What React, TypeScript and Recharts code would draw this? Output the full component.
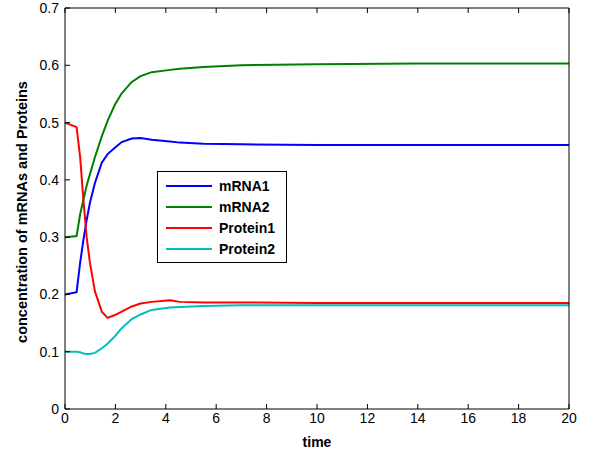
import { LineChart, Line, XAxis, YAxis } from "recharts";

const time = [0, 0.46, 0.6, 0.73, 0.86, 0.99, 1.19, 1.46, 1.69, 1.98, 2.25, 2.65, 3.0, 3.44, 4.17, 4.56, 5.5, 7, 10, 14, 20];
const mrna1 = [0.2, 0.204, 0.255, 0.295, 0.33, 0.36, 0.395, 0.43, 0.445, 0.456, 0.466, 0.472, 0.473, 0.47, 0.467, 0.465, 0.463, 0.462, 0.461, 0.461, 0.461];
const mrna2 = [0.3, 0.302, 0.34, 0.365, 0.39, 0.41, 0.44, 0.476, 0.503, 0.531, 0.551, 0.571, 0.581, 0.588, 0.592, 0.594, 0.597, 0.6, 0.602, 0.603, 0.603];
const protein1 = [0.5, 0.492, 0.44, 0.365, 0.3, 0.255, 0.205, 0.17, 0.159, 0.164, 0.17, 0.179, 0.184, 0.187, 0.19, 0.187, 0.186, 0.186, 0.185, 0.185, 0.185];
const protein2 = [0.1, 0.1, 0.099, 0.097, 0.096, 0.096, 0.098, 0.106, 0.114, 0.127, 0.141, 0.157, 0.165, 0.173, 0.177, 0.178, 0.18, 0.181, 0.181, 0.181, 0.181];

const xTicks = [0, 2, 4, 6, 8, 10, 12, 14, 16, 18, 20];
const yTicks = [0, 0.1, 0.2, 0.3, 0.4, 0.5, 0.6, 0.7];

const series = [
  { key: "mRNA1", color: "#0000ff" },
  { key: "mRNA2", color: "#008000" },
  { key: "Protein1", color: "#ff0000" },
  { key: "Protein2", color: "#00bfbf" },
];

const data = time.map((t, i) => ({
  t,
  mRNA1: mrna1[i],
  mRNA2: mrna2[i],
  Protein1: protein1[i],
  Protein2: protein2[i],
}));

const font = "'Liberation Sans', Arial, sans-serif";

function LegendBox() {
  return (
    <div style={{ position: "absolute", left: 157, top: 171, border: "1px solid #000", background: "#fff", width: 130, height: 92, boxSizing: "border-box", padding: "3px 0 0 8px", fontFamily: font }}>
      {series.map(s => (
        <div key={s.key} style={{ display: "flex", alignItems: "center", height: 21 }}>
          <div style={{ width: 46, height: 2, background: s.color, marginRight: 7 }} />
          <span style={{ fontWeight: "bold", fontSize: 14, color: "#000" }}>{s.key}</span>
        </div>
      ))}
    </div>
  );
}

// y axis title, placed like the original figure
const YTitle = () => (
  <text x={22} y={212} transform="rotate(-90 22 212)" textAnchor="middle" dominantBaseline="central" fontSize={14.5} fontWeight="bold" fill="#000" fontFamily={font}>
    concentration of mRNAs and Proteins
  </text>
);

export default function App() {
  const tickStyle = { fontSize: 14, fill: "#000", fontFamily: font };
  return (
    <div style={{ position: "absolute", left: 0, top: 0, width: 596, height: 453, background: "#fff" }}>
      <LineChart width={596} height={453} data={data} margin={{ top: 7, right: 26, left: 0, bottom: 0 }}>
        <XAxis
          xAxisId="b"
          dataKey="t"
          type="number"
          domain={[0, 20]}
          ticks={xTicks}
          height={44}
          stroke="#000"
          tickSize={-5}
          tickMargin={9}
          tick={tickStyle}
          label={{ value: "time", position: "insideBottom", offset: 6, style: { fontSize: 14, fontWeight: "bold", fill: "#000", fontFamily: font } }}
        />
        <XAxis xAxisId="t" orientation="top" dataKey="t" type="number" domain={[0, 20]} ticks={xTicks} height={1} stroke="#000" tickSize={-5} tickFormatter={() => ""} />
        <YAxis
          yAxisId="l"
          type="number"
          domain={[0, 0.7]}
          ticks={yTicks}
          width={65}
          stroke="#000"
          tickSize={-5}
          tickMargin={11}
          tick={tickStyle}
          label={<YTitle />}
        />
        <YAxis yAxisId="r" orientation="right" type="number" domain={[0, 0.7]} ticks={yTicks} width={1} stroke="#000" tickSize={-5} tickFormatter={() => ""} />
        {series.map(s => (
          <Line key={s.key} xAxisId="b" yAxisId="l" type="linear" dataKey={s.key} stroke={s.color} strokeWidth={2} dot={false} isAnimationActive={false} />
        ))}
      </LineChart>
      <LegendBox />
    </div>
  );
}
